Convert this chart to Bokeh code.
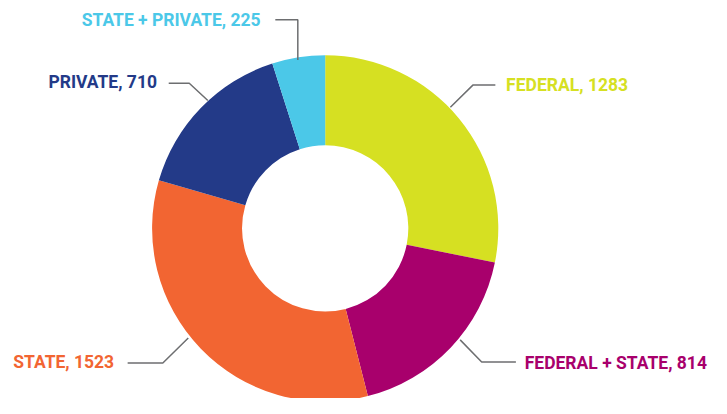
import math
from bokeh.plotting import figure
from bokeh.models import Range1d, ColumnDataSource
from bokeh.core.properties import value
from bokeh.embed import file_html
from bokeh.resources import INLINE

# ---- data ----
categories = ["FEDERAL", "FEDERAL + STATE", "STATE", "PRIVATE", "STATE + PRIVATE"]
counts = [1283, 814, 1523, 710, 225]
colors = ["#d6e022", "#a8006c", "#f26532", "#233a88", "#4bc8e8"]

# ---- layout (reference pixel coordinates, y down) ----
W, H = 711, 398          # figure size in screen pixels
RW, RH = 727, 414        # coordinate frame of the layout
CX, CY = 332, 237
R_OUT, R_IN = 177, 85
# per category: leader polyline points and label anchor (left x, middle y)
leaders = [
    [(506, 88), (483, 88), (460, 111)],
    [(527, 376), (492, 376), (470, 353)],
    [(130, 377), (166, 377), (192, 351)],
    [(172, 86), (193, 86), (212, 104)],
    [(281, 20), (304, 20), (304, 62)],
]
label_pos = [(517, 88), (536, 377), (13, 376), (49, 85), (83, 20)]


def ty(y):
    return RH - y


total = sum(counts)
starts, ends = [], []
cum = 0
for c in counts:
    starts.append(math.pi / 2 - 2 * math.pi * cum / total)
    cum += c
    ends.append(math.pi / 2 - 2 * math.pi * cum / total)

src = ColumnDataSource(dict(cat=categories, count=counts, color=colors,
                            start=starts, end=ends))

p = figure(width=W, height=H, output_backend="svg", toolbar_location=None,
           x_range=Range1d(0, RW), y_range=Range1d(0, RH), min_border=0,
           outline_line_color=None)
p.axis.visible = False
p.grid.visible = False
p.background_fill_color = "white"
p.border_fill_color = "white"

p.annular_wedge(x=CX, y=ty(CY), inner_radius=R_IN, outer_radius=R_OUT,
                start_angle="start", end_angle="end", direction="clock",
                color="color", line_color=None, source=src)

for pts in leaders:
    p.line([a for a, b in pts], [ty(b) for a, b in pts],
           line_color="#6d6e70", line_width=1.5)

labels = [f"{c}, {n}" for c, n in zip(categories, counts)]
p.text(x=[a for a, b in label_pos], y=[ty(b) for a, b in label_pos],
       text=labels, text_color=colors, text_align="left",
       text_baseline="middle", text_font=value("Roboto"),
       text_font_style="bold", text_font_size="17.5px")

open("out.html", "w").write(file_html(p, INLINE))
